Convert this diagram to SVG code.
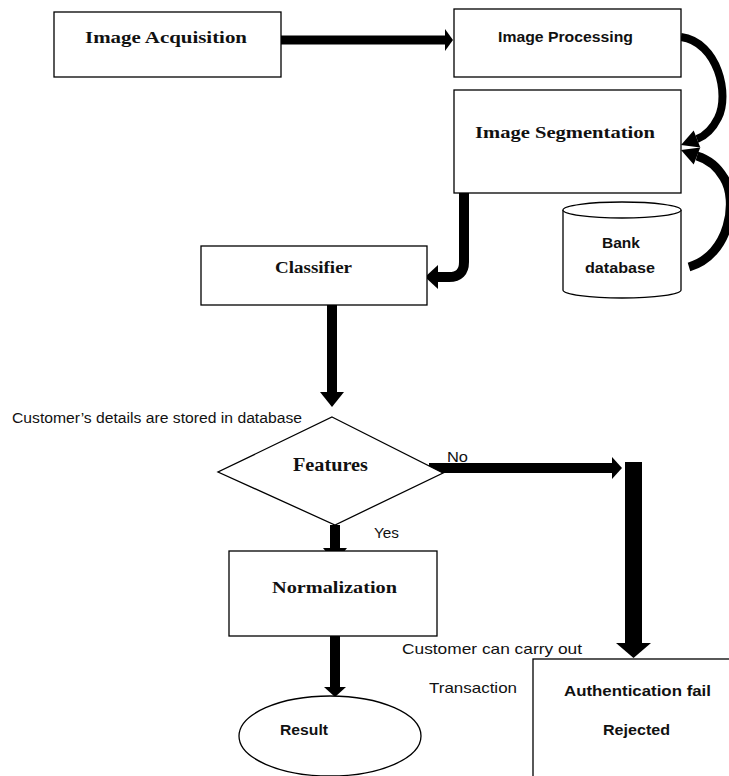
<svg xmlns="http://www.w3.org/2000/svg" width="729" height="776" viewBox="0 0 729 776">
<defs>
<style>
.box{fill:#fff;stroke:#000;stroke-width:1.3}
.serif{font-family:"Liberation Serif","Times New Roman",serif;font-weight:bold;fill:#111}
.sans{font-family:"Liberation Sans",Arial,sans-serif;fill:#111}
.b{font-weight:bold}
.conn{fill:none;stroke:#000}
.head{fill:#000;stroke:none}
</style>
</defs>
<rect width="729" height="776" fill="#fff"/>

<g id="connectors">
<!-- Acquisition -> Processing -->
<line class="conn" x1="281" y1="40" x2="446" y2="40" stroke-width="9"/>
<polygon class="head" points="445,29 453,40 445,51"/>
<!-- Processing -> Segmentation (curved) -->
<path class="conn" stroke-width="8" d="M681,37 C718,42 730,95 718,118 C712,130 705,136 697,139"/>
<polygon class="head" points="681,145 693.7,130.6 700.3,147.4"/>
<!-- Bank database -> Segmentation (curved) -->
<path class="conn" stroke-width="9" d="M689,267 C730,255 738,200 724,178 C717,166 707,159 697,156"/>
<polygon class="head" points="681,150 700.3,147.6 693.7,164.4"/>
<!-- Segmentation -> Classifier -->
<path class="conn" stroke-width="10" d="M464,182 L464,262 Q464,277 449,277 L436,277"/>
<polygon class="head" points="438,265 425,277 438,289"/>
<!-- Classifier -> Features -->
<line class="conn" x1="332" y1="305" x2="332" y2="393" stroke-width="10"/>
<polygon class="head" points="320,392 344,392 332,407"/>
<!-- Features -> Normalization (Yes) -->
<line class="conn" x1="335" y1="525" x2="335" y2="549" stroke-width="10"/>
<polygon class="head" points="323,548 347,548 335,563"/>
<!-- Features -> Authentication fail (No) -->
<line class="conn" x1="429" y1="468" x2="613" y2="468" stroke-width="10"/>
<polygon class="head" points="612,457 622,468 612,479"/>
<rect x="625" y="462" width="17" height="182" fill="#000"/>
<polygon class="head" points="616,643 651,643 633.5,658"/>
<!-- Normalization -> Result -->
<line class="conn" x1="335" y1="636" x2="335" y2="688" stroke-width="10"/>
<polygon class="head" points="324,687 346,687 335,697"/>
</g>

<g id="image-acquisition">
<rect class="box" x="54" y="12" width="227" height="65"/>
<text class="serif" x="85" y="43" font-size="17" textLength="162" lengthAdjust="spacingAndGlyphs">Image Acquisition</text>
</g>

<g id="image-processing">
<rect class="box" x="454" y="9" width="227" height="68"/>
<text class="sans b" x="498" y="42" font-size="14.5" textLength="135" lengthAdjust="spacingAndGlyphs">Image Processing</text>
</g>

<g id="image-segmentation">
<rect class="box" x="454" y="90" width="227" height="103"/>
<text class="serif" x="475" y="138" font-size="17" textLength="180" lengthAdjust="spacingAndGlyphs">Image Segmentation</text>
</g>

<g id="bank-database">
<path class="box" d="M563,210 L563,290 A59,8 0 0 0 681,290 L681,210"/>
<ellipse class="box" cx="622" cy="210" rx="59" ry="8"/>
<text class="sans b" x="602" y="248" font-size="14.5" textLength="38" lengthAdjust="spacingAndGlyphs">Bank</text>
<text class="sans b" x="585" y="273" font-size="14.5" textLength="70" lengthAdjust="spacingAndGlyphs">database</text>
</g>

<g id="classifier">
<rect class="box" x="201" y="246" width="226" height="59"/>
<text class="serif" x="275" y="273" font-size="16" textLength="77" lengthAdjust="spacingAndGlyphs">Classifier</text>
</g>

<g id="features">
<polygon class="box" points="332,417 443,473 335,525 218,472"/>
<text class="serif" x="293" y="471" font-size="18" textLength="75" lengthAdjust="spacingAndGlyphs">Features</text>
</g>

<g id="normalization">
<rect class="box" x="229" y="551" width="208" height="85"/>
<text class="serif" x="272" y="593" font-size="17" textLength="125" lengthAdjust="spacingAndGlyphs">Normalization</text>
</g>

<g id="result">
<ellipse class="box" cx="330" cy="736" rx="91" ry="40"/>
<text class="sans b" x="280" y="735" font-size="14.5" textLength="48" lengthAdjust="spacingAndGlyphs">Result</text>
</g>

<g id="authentication-fail">
<rect class="box" x="533" y="659" width="220" height="140"/>
<text class="sans b" x="564" y="696" font-size="15" textLength="147" lengthAdjust="spacingAndGlyphs">Authentication fail</text>
<text class="sans b" x="603" y="735" font-size="15" textLength="67" lengthAdjust="spacingAndGlyphs">Rejected</text>
</g>

<g id="labels">
<text class="sans" x="12" y="423" font-size="14" textLength="290" lengthAdjust="spacingAndGlyphs">Customer’s details are stored in database</text>
<text class="sans" x="447" y="462" font-size="14.5" textLength="21" lengthAdjust="spacingAndGlyphs">No</text>
<text class="sans" x="374" y="538" font-size="14.5" textLength="25" lengthAdjust="spacingAndGlyphs">Yes</text>
<text class="sans" x="402" y="654" font-size="15" textLength="180" lengthAdjust="spacingAndGlyphs">Customer can carry out</text>
<text class="sans" x="429" y="693" font-size="15" textLength="88" lengthAdjust="spacingAndGlyphs">Transaction</text>
</g>
</svg>
